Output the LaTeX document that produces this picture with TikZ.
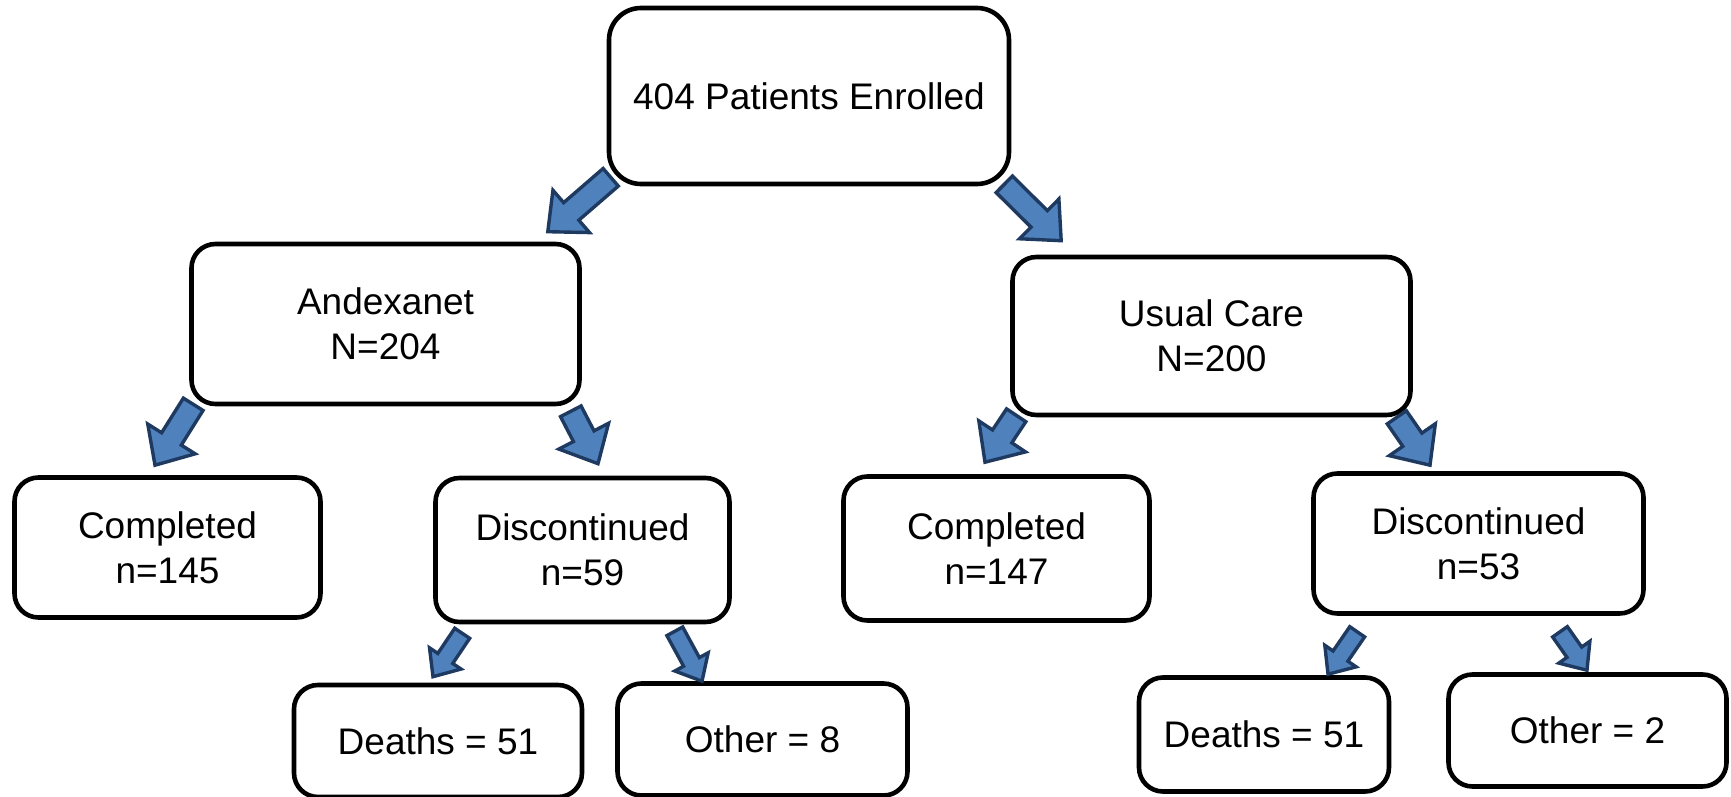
\documentclass[tikz,border=0pt]{standalone}
\usepackage{fontspec}
\setmainfont{Liberation Sans}
\usepackage{tikz}
\usetikzlibrary{calc, positioning}
\definecolor{arrowblue}{HTML}{4F81BD}
\definecolor{arrowdark}{HTML}{1F3A60}

% block arrow from tail #1 to tip #2; #3 half shaft, #4 half head, #5 head length
\newcommand{\blockarrow}[5]{%
  \draw[flowarrow] let \p1=#1, \p2=#2, \n1={atan2(\y2-\y1,\x2-\x1)} in
    ($(\p1)+(\n1+90:#3)$) -- ($(\p2)+(\n1+180:#5)+(\n1+90:#3)$)
    -- ($(\p2)+(\n1+180:#5)+(\n1+90:#4)$) -- (\p2)
    -- ($(\p2)+(\n1+180:#5)+(\n1-90:#4)$) -- ($(\p2)+(\n1+180:#5)+(\n1-90:#3)$)
    -- ($(\p1)+(\n1-90:#3)$) -- cycle;
}

\begin{document}
\begin{tikzpicture}[
    x=0.5pt, y=-0.5pt,
    box/.style={draw, line width=2.3pt, rounded corners=12pt, align=center, inner sep=0pt,
      font=\fontsize{18.5}{22.5}\selectfont},
    flowarrow/.style={fill=arrowblue, draw=arrowdark, line width=1.7pt, line join=miter},
]
    \useasboundingbox (0,0) rectangle (1731,797);

    % Top node
    \node[box, rounded corners=16pt, minimum width=200pt, minimum height=88pt] (enrolled) at (809,96) {404 Patients Enrolled};

    % Arms
    \node[box, minimum width=194pt, minimum height=80pt] (andexanet) at (385.5,324) {Andexanet\\N=204};
    \node[box, minimum width=199pt, minimum height=79pt] (usualcare) at (1211.5,336) {Usual Care\\N=200};

    % Completed / discontinued
    \node[box, minimum width=153pt, minimum height=70pt] (compandx) at (167.5,547.5) {Completed\\n=145};
    \node[box, minimum width=147pt, minimum height=72pt] (discandx) at (582.5,550) {Discontinued\\n=59};
    \node[box, minimum width=153pt, minimum height=72pt] (compusual) at (996.5,548.5) {Completed\\n=147};
    \node[box, minimum width=165pt, minimum height=70pt] (discusual) at (1478.5,543.5) {Discontinued\\n=53};

    % Reasons
    \node[box, minimum width=144pt, minimum height=56pt] (deathandx) at (438,741) {Deaths = 51};
    \node[box, minimum width=145pt, minimum height=56pt] (otherandx) at (762.5,739.5) {Other = 8};
    \node[box, minimum width=125pt, minimum height=57pt] (deathusual) at (1264,734.5) {Deaths = 51};
    \node[box, minimum width=139pt, minimum height=56pt] (otherusual) at (1587.5,730.5) {Other = 2};

    % Arrows
    \blockarrow{($(enrolled.south west)+(4,-9)$)}{($(andexanet.north east)+(-34,-10)$)}{5.8pt}{14pt}{15.5pt}
    \blockarrow{($(enrolled.south east)+(-7,-2)$)}{($(usualcare.north west)+(51,-14)$)}{5.8pt}{14pt}{15.5pt}
    \blockarrow{($(andexanet.south west)+(4,-2)$)}{($(compandx.north)+(-12.5,-10)$)}{5.8pt}{14pt}{15.5pt}
    \blockarrow{($(andexanet.south east)+(-11,5)$)}{($(discandx.north)+(15.5,-12)$)}{5.8pt}{14pt}{15.5pt}
    \blockarrow{($(usualcare.south west)+(6,-2)$)}{($(compusual.north)+(-11.5,-12)$)}{5.8pt}{14pt}{15.5pt}
    \blockarrow{($(usualcare.south east)+(-16,0)$)}{($(discusual.north)+(-48.5,-6)$)}{5.8pt}{14pt}{15.5pt}
    \blockarrow{($(discandx.south west)+(29,9)$)}{($(deathandx.north)+(-5,-6)$)}{4.5pt}{9.5pt}{11pt}
    \blockarrow{($(discandx.south east)+(-57,7)$)}{($(otherandx.north)+(-60.5,0)$)}{4.5pt}{9.5pt}{11pt}
    \blockarrow{($(discusual.south west)+(46,16)$)}{($(deathusual.north)+(64,-1)$)}{4.5pt}{9.5pt}{11pt}
    \blockarrow{($(discusual.south)+(81.5,16)$)}{($(otherusual.north)+(-0.5,-2)$)}{4.5pt}{9.5pt}{11pt}

\end{tikzpicture}
\end{document}
